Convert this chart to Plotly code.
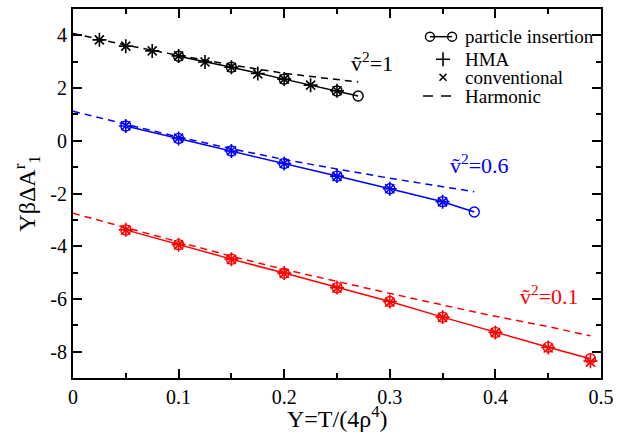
import plotly.graph_objects as go

# ---- data: v~^2 = 1 (black) ----
k1_pi_x = [0.10, 0.15, 0.20, 0.25, 0.27]
k1_pi_y = [3.21, 2.79, 2.34, 1.89, 1.70]
k1_mc_x = [0.025, 0.05, 0.075, 0.10, 0.125, 0.15, 0.175, 0.20, 0.225, 0.25]
k1_hma_y = [3.83, 3.59, 3.41, 3.22, 2.99, 2.79, 2.55, 2.34, 2.11, 1.90]
k1_conv_y = [3.83, 3.59, 3.41, 3.22, 2.99, 2.79, 2.54, 2.34, 2.11, 1.90]
k1_harm_x = [0.0, 0.05, 0.10, 0.15, 0.20, 0.25, 0.27]
k1_harm_y = [4.07, 3.63, 3.24, 2.88, 2.56, 2.33, 2.23]

# ---- data: v~^2 = 0.6 (blue) ----
k6_pi_x = [0.05, 0.10, 0.15, 0.20, 0.25, 0.30, 0.35, 0.38]
k6_pi_y = [0.56, 0.09, -0.39, -0.86, -1.34, -1.82, -2.31, -2.70]
k6_mc_x = [0.05, 0.10, 0.15, 0.20, 0.25, 0.30, 0.35]
k6_hma_y = [0.56, 0.09, -0.39, -0.86, -1.34, -1.82, -2.31]
k6_conv_y = [0.57, 0.10, -0.38, -0.86, -1.35, -1.82, -2.32]
k6_harm_x = [0.0, 0.05, 0.10, 0.15, 0.20, 0.25, 0.30, 0.35, 0.38]
k6_harm_y = [1.12, 0.62, 0.14, -0.30, -0.71, -1.07, -1.42, -1.74, -1.93]

# ---- data: v~^2 = 0.1 (red) ----
k01_pi_x = [0.05, 0.10, 0.15, 0.20, 0.25, 0.30, 0.35, 0.40, 0.45, 0.49]
k01_pi_y = [-3.38, -3.94, -4.49, -5.02, -5.57, -6.10, -6.69, -7.27, -7.83, -8.27]
k01_mc_x = [0.05, 0.10, 0.15, 0.20, 0.25, 0.30, 0.35, 0.40, 0.45, 0.49]
k01_hma_y = [-3.38, -3.94, -4.49, -5.02, -5.57, -6.10, -6.69, -7.27, -7.84, -8.36]
k01_conv_y = [-3.39, -3.95, -4.50, -5.03, -5.59, -6.12, -6.70, -7.28, -7.86, -8.40]
k01_harm_x = [0.0, 0.05, 0.10, 0.15, 0.20, 0.25, 0.30, 0.35, 0.40, 0.45, 0.49]
k01_harm_y = [-2.75, -3.30, -3.85, -4.38, -4.88, -5.34, -5.79, -6.23, -6.66, -7.05, -7.40]

x_tickvals = [0, 0.1, 0.2, 0.3, 0.4, 0.5]
x_ticktext = ["0", "0.1", "0.2", "0.3", "0.4", "0.5"]
y_tickvals = [-8, -6, -4, -2, 0, 2, 4]
y_ticktext = ["-8", "-6", "-4", "-2", "0", "2", "4"]

legend_names = ["particle insertion", "HMA", "conventional", "Harmonic"]

series = [
    ("black", k1_pi_x, k1_pi_y, k1_mc_x, k1_hma_y, k1_conv_y, k1_harm_x, k1_harm_y),
    ("#0000ff", k6_pi_x, k6_pi_y, k6_mc_x, k6_hma_y, k6_conv_y, k6_harm_x, k6_harm_y),
    ("#ff0000", k01_pi_x, k01_pi_y, k01_mc_x, k01_hma_y, k01_conv_y, k01_harm_x, k01_harm_y),
]

FONT = "Liberation Serif"
DASH = "7px,5px"

fig = go.Figure()

for col, pix, piy, mcx, hmay, convy, hx, hy in series:
    fig.add_trace(go.Scatter(x=hx, y=hy, mode="lines", showlegend=False,
                             line=dict(color=col, width=1.5, dash=DASH)))
    fig.add_trace(go.Scatter(x=mcx, y=hmay, mode="markers", showlegend=False,
                             marker=dict(symbol="cross-thin-open", size=10, color=col,
                                         line=dict(color=col, width=1.6))))
    fig.add_trace(go.Scatter(x=mcx, y=convy, mode="markers", showlegend=False,
                             marker=dict(symbol="x-thin-open", size=9, color=col,
                                         line=dict(color=col, width=1.6))))
    fig.add_trace(go.Scatter(x=pix, y=piy, mode="lines+markers", showlegend=False,
                             line=dict(color=col, width=1.5),
                             marker=dict(symbol="circle-open", size=10, color=col,
                                         line=dict(color=col, width=1.4))))

# ---- hand-built legend on an overlay axis in paper fractions ----
row_y = [0.925, 0.8637, 0.8149, 0.7642]
glyph_l, glyph_r, glyph_c = 0.676, 0.718, 0.7008
text_x = 0.7386
leg = dict(xaxis="x2", yaxis="y2", showlegend=False, hoverinfo="skip")
fig.add_trace(go.Scatter(x=[glyph_l, glyph_r], y=[row_y[0]] * 2, mode="lines+markers",
                         line=dict(color="black", width=1.5),
                         marker=dict(symbol="circle-open", size=9, color="black",
                                     line=dict(color="black", width=1.4)), **leg))
fig.add_trace(go.Scatter(x=[glyph_c], y=[row_y[1]], mode="markers",
                         marker=dict(symbol="cross-thin-open", size=10, color="black",
                                     line=dict(color="black", width=1.6)), **leg))
fig.add_trace(go.Scatter(x=[glyph_c], y=[row_y[2]], mode="markers",
                         marker=dict(symbol="x-thin-open", size=7, color="black",
                                     line=dict(color="black", width=1.6)), **leg))
fig.add_trace(go.Scatter(x=[0.663, 0.7235], y=[row_y[3]] * 2, mode="lines",
                         line=dict(color="black", width=1.5, dash="10px,8px"), **leg))
for name, ry in zip(legend_names, row_y):
    fig.add_annotation(x=text_x, y=ry, xref="paper", yref="paper", text=name,
                       showarrow=False, xanchor="left", yanchor="middle",
                       font=dict(family=FONT, size=19, color="black"))

labels = [
    (0.261, 3.0, "ṽ<sup>2</sup>=1", "black"),
    (0.355, -0.88, "ṽ<sup>2</sup>=0.6", "#0000ff"),
    (0.4215, -5.85, "ṽ<sup>2</sup>=0.1", "#ff0000"),
]
for lx, ly, txt, col in labels:
    fig.add_annotation(x=lx, y=ly, xref="x", yref="y", text=txt, showarrow=False,
                       xanchor="left", yanchor="middle",
                       font=dict(family=FONT, size=22, color=col))

# x-axis title placed just under the tick labels
fig.add_annotation(x=0.5, y=-0.105, xref="paper", yref="paper",
                   text="Y=T/(4ρ<sup>4</sup>)", showarrow=False,
                   xanchor="center", yanchor="middle",
                   font=dict(family=FONT, size=24, color="black"))

axis_common = dict(
    showline=True, linecolor="black", linewidth=2, mirror="allticks",
    ticks="inside", ticklen=9, tickwidth=1.5, tickcolor="black",
    showgrid=False, zeroline=False,
    tickfont=dict(family=FONT, size=20, color="black"),
)

xaxis = dict(range=[0, 0.5], tickmode="array", tickvals=x_tickvals, ticktext=x_ticktext,
             minor=dict(dtick=0.05, tick0=0, ticks="inside", ticklen=5, tickwidth=1.5,
                        tickcolor="black", showgrid=False),
             **axis_common)
yaxis = dict(range=[-9, 5], tickmode="array", tickvals=y_tickvals, ticktext=y_ticktext,
             minor=dict(dtick=1, tick0=0, ticks="inside", ticklen=5, tickwidth=1.5,
                        tickcolor="black", showgrid=False),
             title=dict(text="YβΔA<sup>r</sup><sub>1</sub>", standoff=8,
                        font=dict(family=FONT, size=24, color="black")),
             **axis_common)

fig.update_layout(
    width=626, height=439,
    margin=dict(l=73, r=25, t=9, b=61, autoexpand=False),
    paper_bgcolor="white", plot_bgcolor="white",
    font=dict(family=FONT, color="black"),
    showlegend=False,
    xaxis=xaxis, yaxis=yaxis,
    xaxis2=dict(overlaying="x", range=[0, 1], visible=False, anchor="y2"),
    yaxis2=dict(overlaying="y", range=[0, 1], visible=False, anchor="x2"),
)

fig.write_html("out.html")
